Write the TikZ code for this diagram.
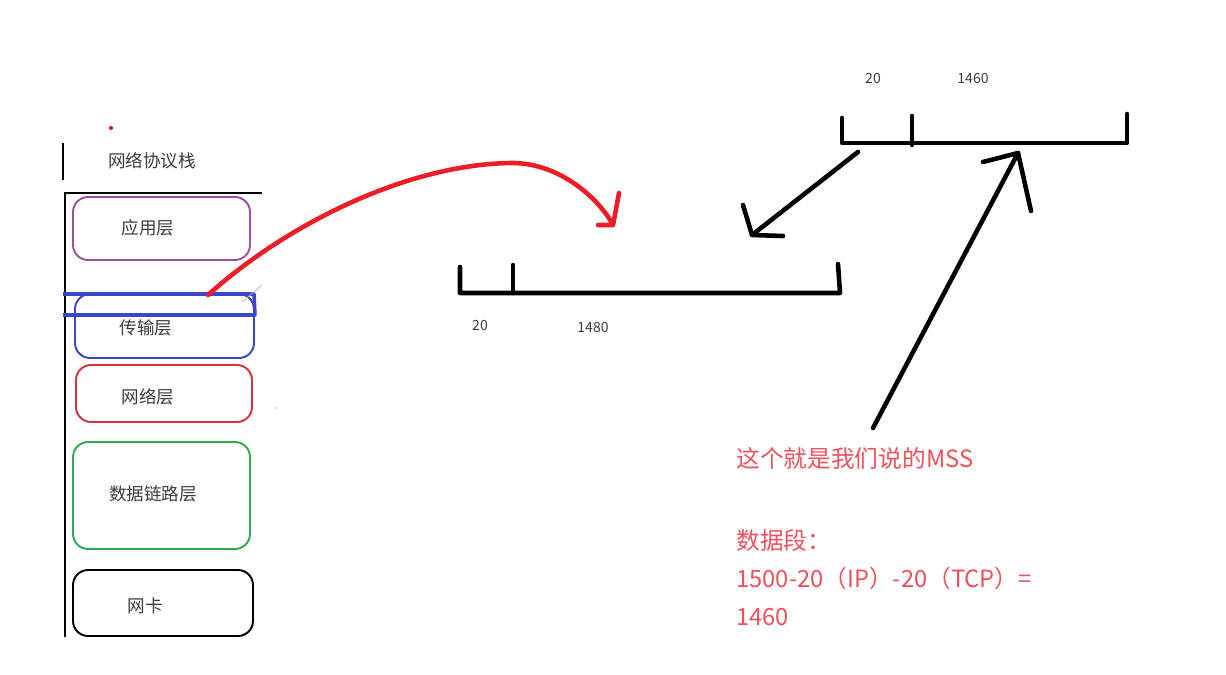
\documentclass[tikz,border=0pt]{standalone}
\usepackage{fontspec}
\setmainfont{Noto Sans CJK SC}
\usepackage{xcolor}
\usetikzlibrary{calc}

\definecolor{appc}{RGB}{155,80,160}
\definecolor{transc}{RGB}{60,70,200}
\definecolor{netc}{RGB}{215,50,60}
\definecolor{linkc}{RGB}{50,170,80}
\definecolor{notec}{RGB}{240,80,90}
\definecolor{penred}{RGB}{235,30,40}
\definecolor{txtc}{RGB}{60,60,60}

\tikzset{
  layer/.style={draw, line width=1.1pt, rounded corners=0.3cm, inner sep=0pt, outer sep=0pt},
  lbl/.style={text=txtc, font=\fontsize{10}{12}\selectfont, inner sep=0pt},
  num/.style={text=txtc, font=\fontsize{8}{10}\selectfont, inner sep=0pt},
  note/.style={text=notec, font=\fontsize{13.5}{16}\selectfont, anchor=west, inner sep=0pt},
  pen/.style={line width=2.6pt, line cap=round, line join=round},
  redpen/.style={pen, color=penred},
}

\begin{document}
\begin{tikzpicture}[x=0.02cm, y=-0.02cm]
\useasboundingbox (0,0) rectangle (1226,675);

% protocol stack
\fill[red] (111,128) circle (2);
\draw[line width=0.8pt] (63,143) -- (63,180);
\node[lbl] (stack) at (152,161) {网络协议栈};
\draw[line width=1.6pt] (65,637) -- (65,193) -- (262,193);

\node[layer, draw=appc, minimum width=3.54cm, minimum height=1.26cm] (app) at (161.5,228.5) {};
\node[layer, draw=transc, minimum width=3.58cm, minimum height=1.28cm] (trans) at (164.5,326) {};
\node[layer, draw=netc, minimum width=3.52cm, minimum height=1.14cm] (net) at (164,393.5) {};
\node[layer, draw=linkc, minimum width=3.54cm, minimum height=2.14cm] (link) at (161.5,495.5) {};
\node[layer, draw=black, minimum width=3.6cm, minimum height=1.32cm] (nic) at (163,603) {};

\node[lbl] (applbl) at (148,228) {应用层};
\node[lbl] (translbl) at (146,328) {传输层};
\node[lbl] (netlbl) at (148,397) {网络层};
\node[lbl] (linklbl) at (153,494) {数据链路层};
\node[lbl] (niclbl) at (145,606) {网卡};

% highlight over the transport layer
\draw[transc, line width=2pt, line join=round] (63,294) -- (254,294) -- (255,315) -- (63,315);
\draw[gray!60, line width=0.4pt] (242,302) -- (262,285);
\fill[txtc] (276,408) circle (0.6);

% red arrow
\coordinate (start) at (208,295);
\coordinate (peak) at (510,163);
\coordinate (redtip) at (613,225);
\draw[redpen] (start) .. controls (280,230) and (400,165) .. (peak)
  .. controls (560,162) and (600,200) .. (redtip);
\draw[redpen] ($(redtip)+(-15,0)$) -- (redtip) -- ($(redtip)+(6,-32)$);

% IP packet
\coordinate (ip0) at (460,293);
\coordinate (ip1) at (513,293);
\coordinate (ip2) at (840,293);
\draw[pen] ($(ip0)+(0,-26)$) -- (ip0) -- (ip2) -- ($(ip2)+(-2,-29)$);
\draw[pen] ($(ip1)+(0,-28)$) -- (ip1);
\node[num] (ipa) at (480,325) {20};
\node[num] (ipb) at (593,327) {1480};

% TCP segment
\coordinate (tcp0) at (842,143);
\coordinate (tcp1) at (912,143);
\coordinate (tcp2) at (1127,143);
\draw[pen] ($(tcp0)+(0,-25)$) -- (tcp0) -- (tcp2) -- ($(tcp2)+(0,-29)$);
\draw[pen] ($(tcp1)+(0,-27)$) -- ($(tcp1)+(0,2)$);
\node[num] (tcpa) at (873,78) {20};
\node[num] (tcpb) at (973,78) {1460};

% black arrows
\coordinate (dtail) at (858,152);
\coordinate (dtip) at (752,235);
\draw[pen] (dtail) -- (dtip);
\draw[pen] ($(dtip)+(-9,-30)$) -- (dtip) -- ($(dtip)+(31,1)$);

\coordinate (utail) at (873,428);
\coordinate (utip) at (1018,153);
\draw[pen] (utail) -- (utip);
\draw[pen] ($(utip)+(-35,9)$) -- (utip) -- ($(utip)+(13,58)$);

% note
\node[note] (mss) at (736,458) {这个就是我们说的MSS};
\node[note] (seg) at (736,540) {数据段：};
\node[note] (calc) at (736,578) {1500-20（IP）-20（TCP）=};
\node[note] (res) at (736,617) {1460};
\end{tikzpicture}
\end{document}
